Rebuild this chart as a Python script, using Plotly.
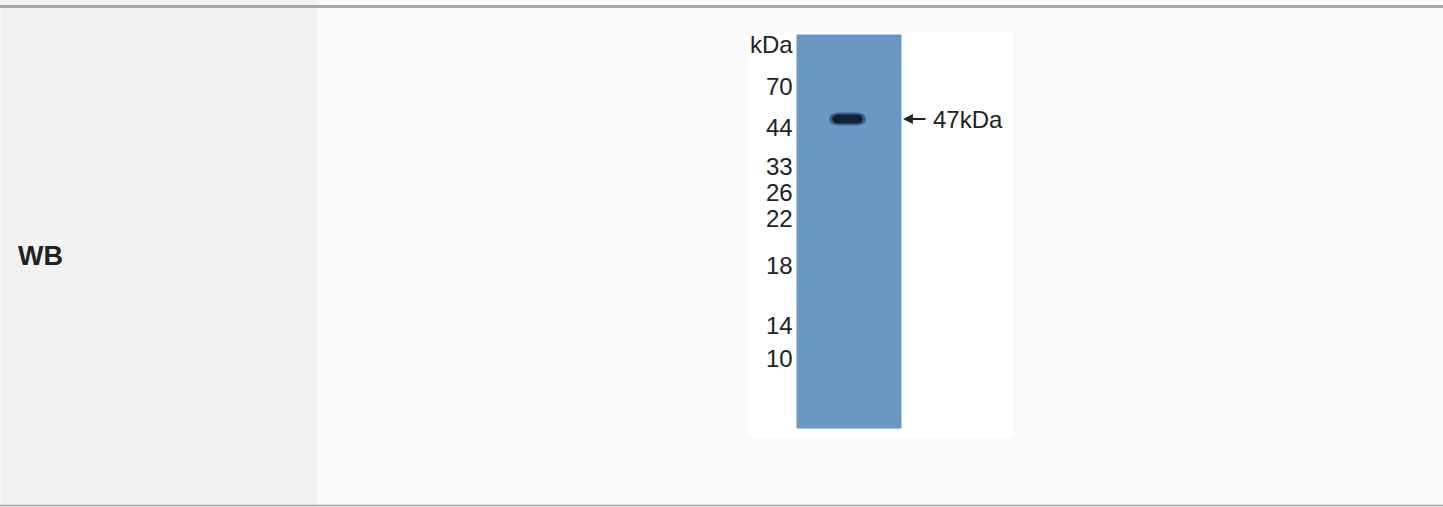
import plotly.graph_objects as go

# ---- data ----
row_label = "WB"
unit_label = "kDa"
marker_labels = ["70", "44", "33", "26", "22", "18", "14", "10"]
marker_pos = [86, 127, 166, 192, 218, 265, 325, 358]   # migration position (px from top)
band_label = "47kDa"
band_pos = 119                                          # migration position of the detected band
lane_top = 35
lane_bottom = 428

W, H = 1443, 507
FONT = "Liberation Sans, Arial, sans-serif"

fig = go.Figure()

# invisible trace to hold the axes
fig.add_trace(go.Scatter(x=[0, W], y=[0, H], mode="markers",
                         marker=dict(opacity=0), hoverinfo="skip", showlegend=False))

shapes = []
# table cells
shapes.append(dict(type="rect", xref="x", yref="y", x0=1, x1=317, y0=0, y1=H,
                   fillcolor="#f2f2f2", line=dict(width=0), layer="below"))
shapes.append(dict(type="rect", xref="x", yref="y", x0=317, x1=W, y0=0, y1=H,
                   fillcolor="#f9f9f9", line=dict(width=0), layer="below"))
# table borders
shapes.append(dict(type="line", xref="x", yref="y", x0=0, x1=W, y0=6.5, y1=6.5,
                   line=dict(color="#a6a6a6", width=3)))
shapes.append(dict(type="line", xref="x", yref="y", x0=0, x1=W, y0=505.5, y1=505.5,
                   line=dict(color="#a3a3a3", width=1.5)))
# blot image background
shapes.append(dict(type="rect", xref="x", yref="y", x0=748, x1=1013, y0=32, y1=438,
                   fillcolor="#ffffff", line=dict(width=0)))
# lane
shapes.append(dict(type="rect", xref="x", yref="y", x0=797, x1=901, y0=lane_top, y1=lane_bottom,
                   fillcolor="#6898c4", line=dict(color="#6a96c0", width=1)))

# band (rounded pill shape around band_pos)
def pill(x0, x1, yc, h):
    r = h / 2
    return (f"M {x0 + r},{yc - r} L {x1 - r},{yc - r} "
            f"Q {x1 + r * 0.6},{yc - r} {x1 + r * 0.6},{yc} "
            f"Q {x1 + r * 0.6},{yc + r} {x1 - r},{yc + r} "
            f"L {x0 + r},{yc + r} "
            f"Q {x0 - r * 0.6},{yc + r} {x0 - r * 0.6},{yc} "
            f"Q {x0 - r * 0.6},{yc - r} {x0 + r},{yc - r} Z")

shapes.append(dict(type="path", xref="x", yref="y", path=pill(833, 862, band_pos, 13),
                   fillcolor="rgba(30,60,100,0.6)", line=dict(width=0)))
shapes.append(dict(type="path", xref="x", yref="y", path=pill(835, 860, band_pos, 9),
                   fillcolor="#0d2036", line=dict(width=0)))

annotations = []
# row label
annotations.append(dict(x=16, y=256, xref="x", yref="y", text=f"<b>{row_label}</b>",
                        showarrow=False, xanchor="left", yanchor="middle",
                        font=dict(family=FONT, size=27, color="#222222")))
# unit label
annotations.append(dict(x=795, y=44, xref="x", yref="y", text=unit_label,
                        showarrow=False, xanchor="right", yanchor="middle",
                        font=dict(family=FONT, size=24, color="#222222")))
# marker labels
for lab, pos in zip(marker_labels, marker_pos):
    annotations.append(dict(x=795, y=pos, xref="x", yref="y", text=lab,
                            showarrow=False, xanchor="right", yanchor="middle",
                            font=dict(family=FONT, size=24, color="#222222")))
# band arrow + label
annotations.append(dict(x=903, y=band_pos, ax=927, ay=band_pos, xref="x", yref="y",
                        axref="x", ayref="y", text="", showarrow=True,
                        arrowhead=2, arrowsize=1.1, arrowwidth=1.8, arrowcolor="#222222"))
annotations.append(dict(x=931, y=band_pos, xref="x", yref="y", text=band_label,
                        showarrow=False, xanchor="left", yanchor="middle",
                        font=dict(family=FONT, size=24, color="#222222")))

fig.update_layout(
    width=W, height=H, autosize=False,
    margin=dict(l=0, r=0, t=0, b=0, pad=0),
    paper_bgcolor="#f9f9f9", plot_bgcolor="#f9f9f9",
    xaxis=dict(range=[0, W], visible=False, fixedrange=True),
    yaxis=dict(range=[H, 0], visible=False, fixedrange=True),
    shapes=shapes, annotations=annotations, showlegend=False,
)

fig.write_html("out.html", config={"displayModeBar": False},
               post_script="document.body.style.margin='0px';document.body.style.overflow='hidden';")
